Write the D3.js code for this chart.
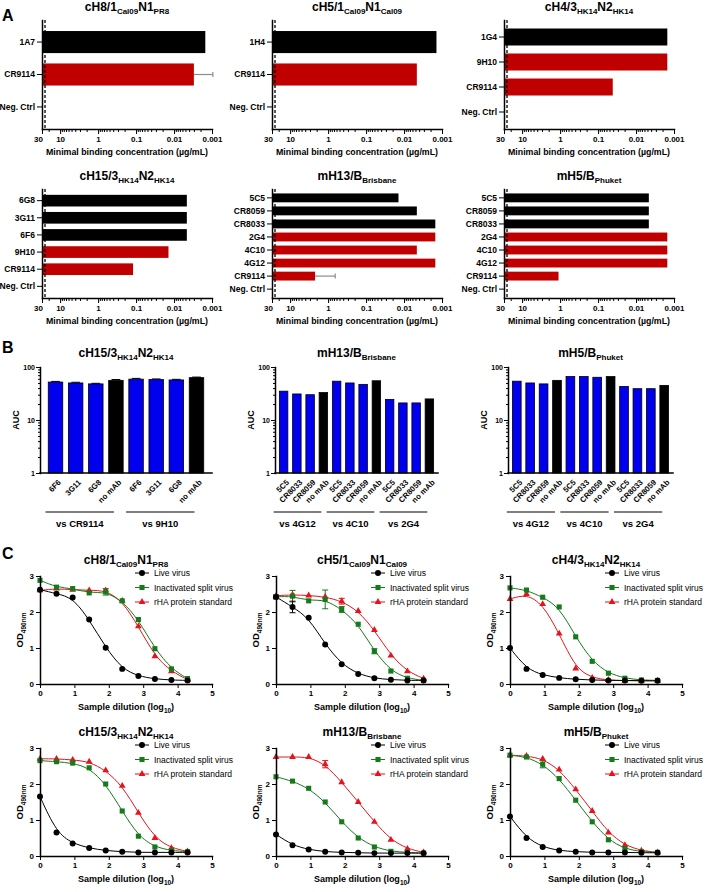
<!DOCTYPE html>
<html>
<head>
<meta charset="utf-8">
<title>Figure</title>
<script src="https://cdn.jsdelivr.net/npm/d3@7/dist/d3.min.js"></script>
<style>
  body { margin: 0; background: #fff; }
  svg { display: block; font-family: "Liberation Sans", Arial, sans-serif; }
</style>
</head>
<body>
<svg id="fig" width="708" height="892"></svg>
<script>
// antibodies drawn red in panel A
var stalkAbs = ["CR9114", "9H10", "2G4", "4C10", "4G12"];

// ---- panel A: minimal binding concentration (ug/mL) ----
var mbcTicks = [30, 10, 1, 0.1, 0.01, 0.001];
var mbcTickLabels = ["30", "10", "1", "0.1", "0.01", "0.001"];
var mbcCutoff = 25;

var a1Title = [["cH8/1", 0], ["Cal09", 1], ["N1", 0], ["PR8", 1]];
var a1Labels = ["1A7", "CR9114", "Neg. Ctrl"];
var a1Values = [0.0015, 0.003, null];
var a1Errs = [null, 0.00095, null];

var a2Title = [["cH5/1", 0], ["Cal09", 1], ["N1", 0], ["Cal09", 1]];
var a2Labels = ["1H4", "CR9114", "Neg. Ctrl"];
var a2Values = [0.0014, 0.0046, null];

var a3Title = [["cH4/3", 0], ["HK14", 1], ["N2", 0], ["HK14", 1]];
var a3Labels = ["1G4", "9H10", "CR9114", "Neg. Ctrl"];
var a3Values = [0.0015, 0.0015, 0.041, null];

var a4Title = [["cH15/3", 0], ["HK14", 1], ["N2", 0], ["HK14", 1]];
var a4Labels = ["6G8", "3G11", "6F6", "9H10", "CR9114", "Neg. Ctrl"];
var a4Values = [0.0046, 0.0046, 0.0046, 0.014, 0.12, null];

var a5Title = [["mH13/B", 0], ["Brisbane", 1]];
var a5Labels = ["5C5", "CR8059", "CR8033", "2G4", "4C10", "4G12", "CR9114", "Neg. Ctrl"];
var a5Values = [0.014, 0.0046, 0.0015, 0.0015, 0.0046, 0.0015, 2.2, null];
var a5Errs = [null, null, null, null, null, null, 0.65, null];

var a6Title = [["mH5/B", 0], ["Phuket", 1]];
var a6Labels = ["5C5", "CR8059", "CR8033", "2G4", "4C10", "4G12", "CR9114", "Neg. Ctrl"];
var a6Values = [0.0046, 0.0046, 0.0046, 0.0015, 0.0015, 0.0015, 1.1, null];

// ---- panel B: competition AUC ----
var aucTicks = [1, 10, 100];
var b1Labels = ["6F6", "3G11", "6G8", "no mAb", "6F6", "3G11", "6G8", "no mAb"];
var b1Groups = ["vs CR9114", "vs 9H10"];
var b1Values = [52, 50, 48, 56, 59, 58, 57, 63];
var b1Errs = [1.5, 1.5, 1.2, 2, 2, 1.5, 1.5, 1.5];

var b2Labels = ["5C5", "CR8033", "CR8059", "no mAb", "5C5", "CR8033", "CR8059", "no mAb", "5C5", "CR8033", "CR8059", "no mAb"];
var b2Groups = ["vs 4G12", "vs 4C10", "vs 2G4"];
var b2Values = [35, 31, 30, 33, 54, 50, 47, 55, 24.5, 21, 21, 25];

var b3Labels = ["5C5", "CR8033", "CR8059", "no mAb", "5C5", "CR8033", "CR8059", "no mAb", "5C5", "CR8033", "CR8059", "no mAb"];
var b3Groups = ["vs 4G12", "vs 4C10", "vs 2G4"];
var b3Values = [54, 50, 48, 56, 66, 66, 64, 66, 43, 39, 39, 45];

// ---- panel C: OD490 vs dilution ----
var cNames = ["Live virus", "Inactivated split virus", "rHA protein standard"];
var cDilution = [0, 0.48, 0.95, 1.43, 1.91, 2.39, 2.86, 3.34, 3.82, 4.29];
var cXTicks = [0, 1, 2, 3, 4, 5];
var cYTicks = [0, 1, 2, 3];

var c1Live  = [2.62, 2.51, 2.40, 1.79, 1.01, 0.42, 0.22, 0.14, 0.11, 0.10];
var c1Split = [2.88, 2.69, 2.65, 2.53, 2.56, 2.31, 1.79, 0.98, 0.42, 0.15];
var c1Rha   = [2.60, 2.65, 2.62, 2.60, 2.60, 2.31, 1.60, 0.77, 0.35, 0.12];
var c1SplitErr = [0, 0, 0, 0, 0.09, 0, 0, 0, 0, 0];

var c2Live  = [2.42, 2.14, 1.84, 1.10, 0.55, 0.28, 0.16, 0.12, 0.10, 0.10];
var c2Split = [2.42, 2.44, 2.31, 2.35, 2.07, 1.66, 0.91, 0.36, 0.16, 0.10];
var c2Rha   = [2.45, 2.48, 2.46, 2.42, 2.30, 2.03, 1.50, 0.79, 0.35, 0.15];
var c2LiveErr  = [0.05, 0.16, 0, 0, 0, 0, 0, 0, 0, 0];
var c2SplitErr = [0, 0.16, 0, 0.26, 0.08, 0, 0.07, 0, 0, 0];
var c2RhaErr   = [0, 0, 0, 0, 0.08, 0, 0, 0, 0, 0];

var c3Live  = [1.00, 0.42, 0.25, 0.17, 0.13, 0.11, 0.10, 0.10, 0.09, 0.09];
var c3Split = [2.67, 2.61, 2.41, 2.14, 1.31, 0.63, 0.30, 0.16, 0.11, 0.10];
var c3Rha   = [2.36, 2.50, 2.22, 1.40, 0.43, 0.17, 0.11, 0.09, 0.09, 0.09];

var c4Live  = [1.65, 0.65, 0.35, 0.22, 0.15, 0.12, 0.10, 0.10, 0.10, 0.10];
var c4Split = [2.65, 2.62, 2.58, 2.45, 2.00, 1.25, 0.55, 0.25, 0.15, 0.12];
var c4Rha   = [2.70, 2.70, 2.67, 2.62, 2.38, 1.95, 1.20, 0.50, 0.22, 0.13];

var c5Live  = [0.60, 0.30, 0.18, 0.12, 0.10, 0.09, 0.08, 0.08, 0.08, 0.08];
var c5Split = [2.20, 2.08, 1.88, 1.50, 0.95, 0.50, 0.25, 0.13, 0.10, 0.08];
var c5Rha   = [2.75, 2.75, 2.75, 2.55, 2.05, 1.50, 0.95, 0.45, 0.20, 0.10];
var c5RhaErr = [0, 0, 0, 0.1, 0, 0, 0, 0, 0, 0];

var c6Live  = [1.10, 0.50, 0.25, 0.15, 0.12, 0.10, 0.10, 0.10, 0.09, 0.09];
var c6Split = [2.80, 2.75, 2.55, 2.15, 1.55, 0.95, 0.45, 0.20, 0.12, 0.10];
var c6Rha   = [2.80, 2.78, 2.70, 2.40, 1.85, 1.25, 0.65, 0.30, 0.15, 0.10];
var c6SplitErr = [0, 0, 0.1, 0, 0, 0, 0, 0, 0, 0];

// ---- styles ----
var red = "#c00000";
var blue = "#0000ee";
var cColors = ["#000000", "#157a1c", "#e3141b"];
var cShapes = [d3.symbolCircle, d3.symbolSquare, d3.symbolTriangle];
var cSizes = [28, 26, 20];

var svg = d3.select("#fig");

function richText(sel, parts, size, subSize, shift) {
    var prevSub = false;
    parts.forEach(function(p) {
        var t = sel.append("tspan").text(p[0]).attr("font-size", p[1] ? subSize : size);
        if (p[1] && !prevSub) t.attr("dy", shift);
        if (!p[1] && prevSub) t.attr("dy", -shift);
        prevSub = !!p[1];
    });
    return sel;
}

function title(x, y, parts) {
    var t = svg.append("text")
        .attr("x", x).attr("y", y)
        .attr("text-anchor", "middle")
        .attr("font-weight", "bold");
    richText(t, parts, 12, 8, 3);
}

function styleAxis(ag, fs) {
    ag.attr("font-family", null).attr("font-size", null);
    ag.select(".domain").attr("stroke-width", 1.5).attr("stroke-linecap", "square");
    ag.selectAll(".tick line").attr("stroke-width", 1);
    ag.selectAll(".tick text")
        .attr("font-size", fs)
        .attr("font-weight", "bold")
        .attr("fill", "#000");
}

function sameLog(a, b) {
    return Math.abs(Math.log10(a) - Math.log10(b)) < 1e-6;
}

// panel A chart
function drawMbc(x0, top, ttl, labels, values, errs) {
    var w = 170, h = 109;
    var g = svg.append("g");
    var x = d3.scaleLog().domain([30, 0.001]).range([x0, x0 + w]);
    var y = d3.scaleBand().domain(labels).range([top, top + h])
        .paddingInner(0.32).paddingOuter(0.34);
    var rows = labels.map(function(l, i) {
        return {name: l, v: values[i], e: errs ? errs[i] : null};
    }).filter(function(d) { return d.v != null; });

    g.selectAll(".bar").data(rows).enter().append("rect")
        .attr("class", "bar")
        .attr("x", x(30))
        .attr("y", function(d) { return y(d.name); })
        .attr("width", function(d) { return x(d.v) - x(30); })
        .attr("height", y.bandwidth())
        .attr("fill", function(d) { return stalkAbs.indexOf(d.name) != -1 ? red : "#000"; });

    var eb = rows.filter(function(d) { return d.e != null; });
    eb.forEach(function(d) {
        var cy = y(d.name) + y.bandwidth() / 2;
        g.append("line")
            .attr("x1", x(d.v)).attr("x2", x(d.e))
            .attr("y1", cy).attr("y2", cy)
            .attr("stroke", "#8c8c8c").attr("stroke-width", 1.2);
        g.append("line")
            .attr("x1", x(d.e)).attr("x2", x(d.e))
            .attr("y1", cy - 2.5).attr("y2", cy + 2.5)
            .attr("stroke", "#8c8c8c").attr("stroke-width", 1.2);
    });

    g.append("line")
        .attr("x1", x(mbcCutoff)).attr("x2", x(mbcCutoff))
        .attr("y1", top).attr("y2", top + h)
        .attr("stroke", "#000").attr("stroke-width", 1.3)
        .attr("stroke-dasharray", "3,2");

    var minors = x.ticks().filter(function(t) {
        return !mbcTicks.some(function(m) { return sameLog(m, t); });
    });
    var minAx = g.append("g").attr("transform", "translate(0," + (top + h) + ")")
        .call(d3.axisBottom(x).tickValues(minors).tickSize(3).tickFormat(""));
    minAx.select(".domain").remove();
    minAx.selectAll(".tick line").attr("stroke-width", 1);

    var xAx = g.append("g").attr("transform", "translate(0," + (top + h) + ")")
        .call(d3.axisBottom(x).tickValues(mbcTicks).tickSize(5).tickSizeOuter(0).tickPadding(2)
            .tickFormat(function(d, i) { return mbcTickLabels[i]; }));
    styleAxis(xAx, 8);
    xAx.selectAll(".tick text").filter(function(d) { return d == 30; }).attr("dx", -4);

    var yAx = g.append("g").attr("transform", "translate(" + x0 + ",0)")
        .call(d3.axisLeft(y).tickSize(5).tickSizeOuter(0).tickPadding(2));
    styleAxis(yAx, 8.5);

    title(x0 + w / 2, top - 9, ttl);
    g.append("text")
        .attr("x", x0 + w / 2).attr("y", top + h + 26)
        .attr("text-anchor", "middle")
        .attr("font-weight", "bold").attr("font-size", 8.8)
        .text("Minimal binding concentration (\u00b5g/mL)");
}

// panel B chart
function drawAuc(x0, x1, pIn, pOut, ttl, labels, groups, values, errs) {
    var bottom = 473, top = 367;
    var g = svg.append("g");
    var x = d3.scaleBand().domain(d3.range(labels.length)).range([x0, x1])
        .paddingInner(pIn).paddingOuter(pOut);
    var y = d3.scaleLog().domain([1, 100]).range([bottom, top]);
    var bw = x.bandwidth();

    if (errs) {
        errs.forEach(function(e, i) {
            var cx = x(i) + bw / 2;
            g.append("line").attr("x1", cx).attr("x2", cx)
                .attr("y1", y(values[i])).attr("y2", y(values[i] + e))
                .attr("stroke", "#000").attr("stroke-width", 1);
            g.append("line").attr("x1", cx - bw * 0.3).attr("x2", cx + bw * 0.3)
                .attr("y1", y(values[i] + e)).attr("y2", y(values[i] + e))
                .attr("stroke", "#000").attr("stroke-width", 1);
        });
    }

    g.selectAll(".bar").data(values).enter().append("rect")
        .attr("x", function(d, i) { return x(i); })
        .attr("y", function(d) { return y(d); })
        .attr("width", bw)
        .attr("height", function(d) { return y(1) - y(d); })
        .attr("fill", function(d, i) { return labels[i] == "no mAb" ? "#000" : blue; })
        .attr("stroke", "#000").attr("stroke-width", 0.8);

    var minors = y.ticks().filter(function(t) {
        return !aucTicks.some(function(m) { return sameLog(m, t); });
    });
    var minAx = g.append("g").attr("transform", "translate(" + x0 + ",0)")
        .call(d3.axisLeft(y).tickValues(minors).tickSize(2).tickFormat(""));
    minAx.select(".domain").remove();
    minAx.selectAll(".tick line").attr("stroke-width", 1);
    var yAx = g.append("g").attr("transform", "translate(" + x0 + ",0)")
        .call(d3.axisLeft(y).tickValues(aucTicks).tickSize(4).tickSizeOuter(0).tickPadding(1)
            .tickFormat(d3.format("d")));
    styleAxis(yAx, 7);

    var xAx = g.append("g").attr("transform", "translate(0," + bottom + ")")
        .call(d3.axisBottom(x).tickSize(0).tickSizeOuter(0)
            .tickFormat(function(i) { return labels[i]; }));
    styleAxis(xAx, 7.8);
    xAx.select(".domain").attr("d", "M" + x0 + ",0H" + x1);
    xAx.selectAll(".tick text")
        .attr("y", 0).attr("dy", "0.35em")
        .attr("text-anchor", "end")
        .attr("transform", "translate(4,8) rotate(-45)");

    var per = labels.length / groups.length;
    groups.forEach(function(name, k) {
        var gx1 = x(k * per) + bw / 2 - 10;
        var gx2 = x(k * per + per - 1) + bw / 2 - 2;
        g.append("line").attr("x1", gx1).attr("x2", gx2)
            .attr("y1", 512).attr("y2", 512)
            .attr("stroke", "#000").attr("stroke-width", 1.2);
        g.append("text").attr("x", (gx1 + gx2) / 2).attr("y", 527)
            .attr("text-anchor", "middle")
            .attr("font-weight", "bold").attr("font-size", 9.5)
            .text(name);
    });

    g.append("text")
        .attr("transform", "translate(" + (x0 - 21) + "," + ((top + bottom) / 2) + ") rotate(-90)")
        .attr("text-anchor", "middle")
        .attr("font-weight", "bold").attr("font-size", 9)
        .text("AUC");
    title((x0 + x1) / 2, top - 10, ttl);
}

// panel C chart
function drawElisa(x0, bottom, ttl, series, errs) {
    var w = 172;
    var g = svg.append("g");
    var x = d3.scaleLinear().domain([0, 5]).range([x0, x0 + w]);
    var y = d3.scaleLinear().domain([0, 3]).range([bottom, bottom - 108]);
    var line = d3.line()
        .x(function(d) { return x(d[0]); })
        .y(function(d) { return y(d[1]); })
        .curve(d3.curveBasis);
    var order = [2, 1, 0];

    order.forEach(function(s) {
        var pts = cDilution.map(function(dx, i) { return [dx, series[s][i]]; });
        g.append("path").attr("d", line(pts))
            .attr("fill", "none").attr("stroke", cColors[s]).attr("stroke-width", 1);
    });
    order.forEach(function(s) {
        if (!errs || !errs[s]) return;
        errs[s].forEach(function(e, i) {
            if (!e) return;
            var cx = x(cDilution[i]);
            var lo = y(series[s][i] - e), hi = y(series[s][i] + e);
            g.append("path")
                .attr("d", "M" + cx + "," + lo + "V" + hi +
                    "M" + (cx - 3) + "," + hi + "h6" +
                    "M" + (cx - 3) + "," + lo + "h6")
                .attr("fill", "none").attr("stroke", cColors[s]).attr("stroke-width", 1);
        });
    });
    order.forEach(function(s) {
        g.selectAll(null).data(cDilution).enter().append("path")
            .attr("transform", function(d, i) {
                return "translate(" + x(d) + "," + y(series[s][i]) + ")";
            })
            .attr("d", d3.symbol(cShapes[s], cSizes[s])())
            .attr("fill", cColors[s]);
    });

    var xAx = g.append("g").attr("transform", "translate(0," + bottom + ")")
        .call(d3.axisBottom(x).tickValues(cXTicks).tickSize(4).tickSizeOuter(0).tickPadding(2)
            .tickFormat(d3.format("d")));
    styleAxis(xAx, 8);
    var yAx = g.append("g").attr("transform", "translate(" + x0 + ",0)")
        .call(d3.axisLeft(y).tickValues(cYTicks).tickSize(4).tickSizeOuter(0).tickPadding(2)
            .tickFormat(d3.format("d")));
    styleAxis(yAx, 8);

    var xt = g.append("text")
        .attr("x", x0 + w / 2).attr("y", bottom + 26)
        .attr("text-anchor", "middle").attr("font-weight", "bold");
    richText(xt, [["Sample dilution (log", 0], ["10", 1], [")", 0]], 9, 6.5, 2.5);
    var yt = g.append("text")
        .attr("transform", "translate(" + (x0 - 17) + "," + (bottom - 54) + ") rotate(-90)")
        .attr("text-anchor", "middle").attr("font-weight", "bold");
    richText(yt, [["OD", 0], ["490nm", 1]], 9.5, 6.5, 2.5);

    var ly = y(3);
    cNames.forEach(function(name, s) {
        var cy = ly - 3 + s * 14.5;
        g.append("line").attr("x1", x0 + 95).attr("x2", x0 + 109)
            .attr("y1", cy).attr("y2", cy)
            .attr("stroke", cColors[s]).attr("stroke-width", 1);
        g.append("path")
            .attr("transform", "translate(" + (x0 + 102) + "," + cy + ")")
            .attr("d", d3.symbol(cShapes[s], cSizes[s])())
            .attr("fill", cColors[s]);
        g.append("text").attr("x", x0 + 114).attr("y", cy + 3)
            .attr("font-size", 8.5).text(name);
    });

    title(x0 + w / 2, y(3) - 12, ttl);
}

function panelLetter(t, y) {
    svg.append("text").attr("x", 2).attr("y", y)
        .attr("font-weight", "bold").attr("font-size", 16).text(t);
}

panelLetter("A", 21);
panelLetter("B", 353);
panelLetter("C", 559);

drawMbc(42, 20, a1Title, a1Labels, a1Values, a1Errs);
drawMbc(272, 20, a2Title, a2Labels, a2Values, null);
drawMbc(504, 20, a3Title, a3Labels, a3Values, null);
drawMbc(42, 189, a4Title, a4Labels, a4Values, null);
drawMbc(272, 189, a5Title, a5Labels, a5Values, a5Errs);
drawMbc(504, 189, a6Title, a6Labels, a6Values, null);

drawAuc(40, 212, 0.28, 0.41, a4Title, b1Labels, b1Groups, b1Values, b1Errs);
drawAuc(275, 438, 0.36, 0.33, a5Title, b2Labels, b2Groups, b2Values, null);
drawAuc(508, 673, 0.35, 0.33, a6Title, b3Labels, b3Groups, b3Values, null);

drawElisa(40, 684, a1Title, [c1Live, c1Split, c1Rha], [null, c1SplitErr, null]);
drawElisa(276, 684, a2Title, [c2Live, c2Split, c2Rha], [c2LiveErr, c2SplitErr, c2RhaErr]);
drawElisa(510, 684, a3Title, [c3Live, c3Split, c3Rha], null);
drawElisa(40, 856, a4Title, [c4Live, c4Split, c4Rha], null);
drawElisa(276, 856, a5Title, [c5Live, c5Split, c5Rha], [null, null, c5RhaErr]);
drawElisa(510, 856, a6Title, [c6Live, c6Split, c6Rha], [null, c6SplitErr, null]);
</script>
</body>
</html>
